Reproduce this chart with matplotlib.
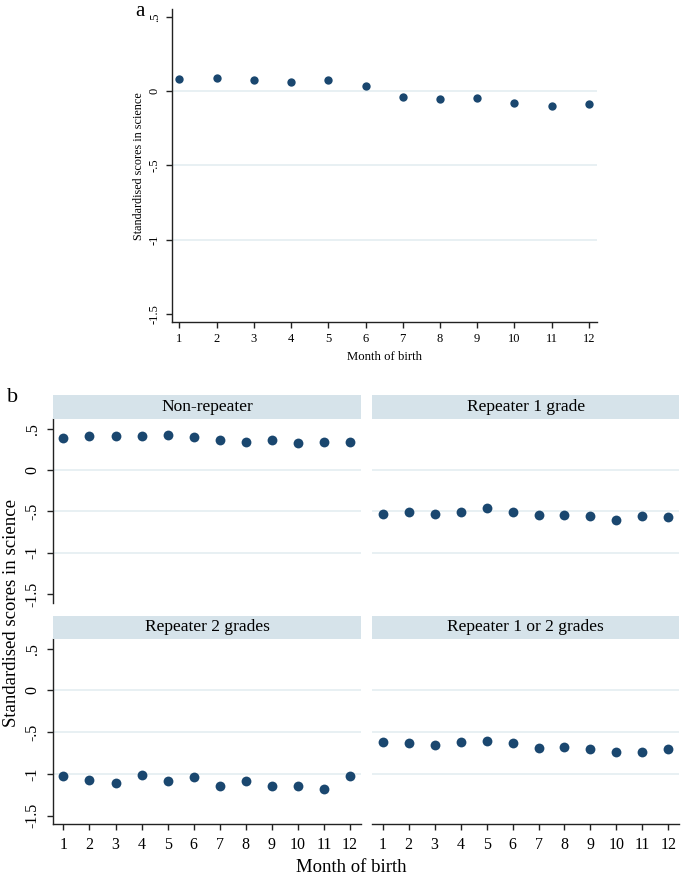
import matplotlib
matplotlib.use("Agg")
import matplotlib.pyplot as plt
import numpy as np

plt.rcParams['font.family'] = ['Liberation Serif', 'DejaVu Serif']

months = list(range(1, 13))
overall = [0.079, 0.086, 0.074, 0.061, 0.077, 0.036, -0.036, -0.056, -0.043, -0.077, -0.099, -0.088]
non_repeater = [0.392, 0.408, 0.412, 0.408, 0.42, 0.404, 0.36, 0.34, 0.36, 0.332, 0.344, 0.344]
repeater_1 = [-0.528, -0.512, -0.536, -0.504, -0.464, -0.504, -0.54, -0.54, -0.552, -0.6, -0.552, -0.572]
repeater_2 = [-1.024, -1.072, -1.108, -1.016, -1.084, -1.032, -1.14, -1.08, -1.148, -1.144, -1.18, -1.028]
repeater_12 = [-0.624, -0.632, -0.652, -0.62, -0.604, -0.628, -0.688, -0.68, -0.704, -0.74, -0.736, -0.704]
panel_titles = ["Non-repeater", "Repeater 1 grade", "Repeater 2 grades", "Repeater 1 or 2 grades"]
yticks = [0.5, 0, -0.5, -1, -1.5]
ytick_labels = [".5", "0", "-.5", "-1", "-1.5"]
grid_vals = [0, -0.5, -1]

W, H = 685, 877
DOT = '#1a476f'
GRID = '#e6eff2'
STRIP = '#d6e3ea'
AX = '#222222'

fig = plt.figure(figsize=(W / 100, H / 100), dpi=100)

def rect(l, t, r, b):
    return [l / W, 1 - b / H, (r - l) / W, (b - t) / H]

def style(ax, show_y, show_x, tsize, ms_pad):
    for s in ['top', 'right']:
        ax.spines[s].set_visible(False)
    ax.spines['left'].set_visible(show_y)
    ax.spines['bottom'].set_visible(show_x)
    for s in ['left', 'bottom']:
        ax.spines[s].set_color(AX)
        ax.spines[s].set_linewidth(1.0)
    for g in grid_vals:
        ax.axhline(g, color=GRID, lw=1.3, zorder=0)
    ax.set_yticks(yticks)
    ax.set_xticks(months)
    if show_y:
        ax.set_yticklabels(ytick_labels, rotation=90, va='center', fontsize=tsize)
        ax.tick_params(axis='y', length=4, width=1, color=AX, pad=ms_pad)
    else:
        ax.tick_params(axis='y', left=False, labelleft=False)
    if show_x:
        ax.set_xticklabels([str(m) for m in months], fontsize=tsize)
        ax.tick_params(axis='x', length=4, width=1, color=AX, pad=ms_pad)
    else:
        ax.tick_params(axis='x', bottom=False, labelbottom=False)
    ax.patch.set_alpha(0)

# Panel a
axa = fig.add_axes(rect(172, 9, 597, 322))
axa.scatter(months, overall, s=36, color=DOT, zorder=3, linewidths=0)
axa.set_xlim(0.8, 12.22)
axa.set_ylim(-1.556, 0.554)
style(axa, True, True, 9, 4)
fig.text(139 / W, 1 - 166 / H, "Standardised scores in science", rotation=90,
         ha='center', va='center', fontsize=8.7)
fig.text(384.5 / W, 1 - 357 / H, "Month of birth", ha='center', va='center', fontsize=9.2)
fig.text(140 / W, 1 - 11 / H, "a", ha='center', va='center', fontsize=15)

# Panel b
cols = [(53, 361), (372.3, 679.3)]
rows = [(395, 419, 602.7), (615.7, 639, 824.3)]
series = [non_repeater, repeater_1, repeater_2, repeater_12]
for i, (title, vals) in enumerate(zip(panel_titles, series)):
    r, c = divmod(i, 2)
    l, rr = cols[c]
    st, at, ab = rows[r]
    ax = fig.add_axes(rect(l, at, rr, ab))
    ax.scatter(months, vals, s=50, color=DOT, zorder=3, linewidths=0)
    ax.set_xlim(0.6, 12.42)
    ax.set_ylim(-1.605, 0.617)
    style(ax, c == 0, r == 1, 11.5, 5)
    sax = fig.add_axes(rect(l, st, rr, at))
    sax.set_facecolor(STRIP)
    for s in sax.spines.values():
        s.set_visible(False)
    sax.set_xticks([])
    sax.set_yticks([])
    sax.text(0.5, 0.5, title, ha='center', va='center', fontsize=12.5,
             transform=sax.transAxes)

fig.text(12 / W, 1 - 613 / H, "Standardised scores in science", rotation=90,
         ha='center', va='center', fontsize=13.5)
fig.text(351 / W, 1 - 867 / H, "Month of birth", ha='center', va='center', fontsize=13.5)
fig.text(13 / W, 1 - 397 / H, "b", ha='center', va='center', fontsize=16)

fig.savefig("out.png", dpi=100)
